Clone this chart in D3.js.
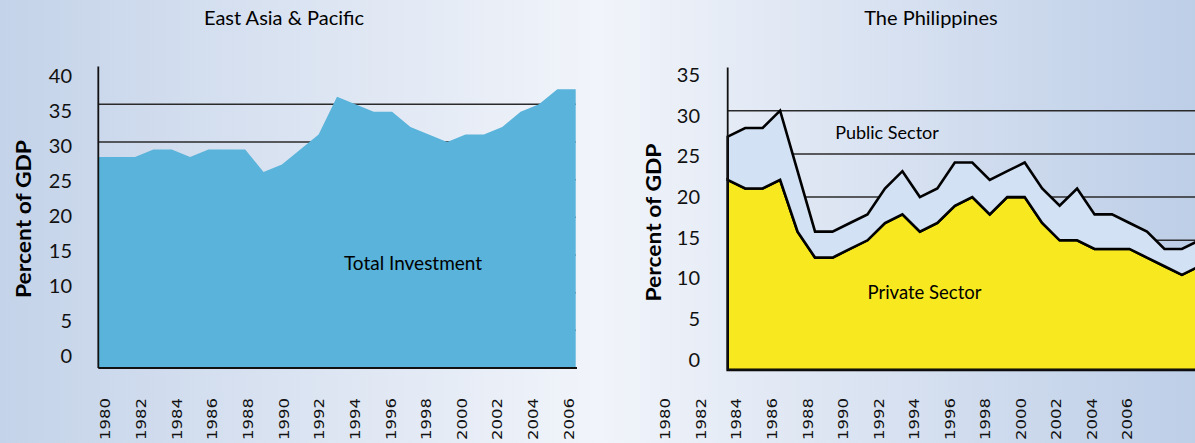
<!DOCTYPE html>
<html lang="en">
<head>
    <meta charset="utf-8">
    <title>Investment, percent of GDP</title>
    <script src="https://cdn.jsdelivr.net/npm/d3@7/dist/d3.min.js"></script>
    <style>
        body { margin: 0; padding: 0; overflow: hidden; }
        svg { display: block; font-family: Lato, "Noto Sans", sans-serif; }
        .tick text { fill: #111; }
    </style>
</head>
<body>
    <div id="chart"></div>
    <script>
        var width = 1195, height = 443;

        // East Asia & Pacific, total investment (% of GDP)
        var eapYears = [1980, 1981, 1982, 1983, 1984, 1985, 1986, 1987, 1988, 1989, 1990, 1991, 1992, 1993,
            1994, 1995, 1996, 1997, 1998, 1999, 2000, 2001, 2002, 2003, 2004, 2005, 2006];
        var eapTotal = [28, 28, 28, 29, 29, 28, 29, 29, 29, 26, 27, 29, 31, 36,
            35, 34, 34, 32, 31, 30, 31, 31, 32, 34, 35, 37, 37];

        // The Philippines, private and public investment (% of GDP)
        var phYears = [1980, 1981, 1982, 1983, 1984, 1985, 1986, 1987, 1988, 1989, 1990, 1991, 1992, 1993,
            1994, 1995, 1996, 1997, 1998, 1999, 2000, 2001, 2002, 2003, 2004, 2005, 2006, 2007];
        var phPrivate = [22, 21, 21, 22, 16, 13, 13, 14, 15, 17, 18, 16, 17, 19,
            20, 18, 20, 20, 17, 15, 15, 14, 14, 14, 13, 12, 11, 12];
        var phPublic = [5, 7, 7, 8, 7, 3, 3, 3, 3, 4, 5, 4, 4, 5,
            4, 4, 3, 4, 4, 4, 6, 4, 4, 3, 3, 2, 3, 3];

        // axis labels
        var yearLabels = ['1980', '1982', '1984', '1986', '1988', '1990', '1992', '1994', '1996', '1998',
            '2000', '2002', '2004', '2006'];
        var eapTicks = [0, 5, 10, 15, 20, 25, 30, 35, 40];
        var phTicks = [0, 5, 10, 15, 20, 25, 30, 35];

        var svg = d3.select('#chart')
            .append('svg')
            .attr('width', width)
            .attr('height', height);

        var grad = svg.append('defs').append('linearGradient')
            .attr('id', 'bg')
            .attr('x1', '0').attr('x2', '1').attr('y1', '0').attr('y2', '0');
        grad.append('stop').attr('offset', '0%').attr('stop-color', '#c4d3e9');
        grad.append('stop').attr('offset', '50%').attr('stop-color', '#f1f4fa');
        grad.append('stop').attr('offset', '100%').attr('stop-color', '#bdcee7');

        svg.append('rect')
            .attr('width', width)
            .attr('height', height)
            .attr('fill', 'url(#bg)');

        // ---------- left panel ----------
        var x1 = d3.scalePoint().domain(eapYears).range([98.3, 575.7]);
        var y1 = d3.scaleLinear().domain([0, 40]).range([368, 66.6]);

        svg.append('g')
            .selectAll('line')
            .data(eapTicks.filter(d => d > 0 && d < 40))
            .enter().append('line')
            .attr('x1', x1.range()[0]).attr('x2', x1.range()[1])
            .attr('y1', d => y1(d)).attr('y2', d => y1(d))
            .attr('stroke', '#2a2a2a')
            .attr('stroke-width', 1.5);

        var area1 = d3.area()
            .x((d, i) => x1(eapYears[i]))
            .y0(y1(0))
            .y1(d => y1(d));

        svg.append('path')
            .datum(eapTotal)
            .attr('d', area1)
            .attr('fill', '#59b3da');

        svg.append('line')
            .attr('x1', 98.3).attr('x2', 98.3)
            .attr('y1', y1(40)).attr('y2', y1(0))
            .attr('stroke', '#111').attr('stroke-width', 1.8);
        svg.append('line')
            .attr('x1', 98.3).attr('x2', 577)
            .attr('y1', y1(0)).attr('y2', y1(0))
            .attr('stroke', '#111').attr('stroke-width', 1.8);

        // tick labels sit a little off the data scale in the original
        var yLab1 = d3.scaleLinear().domain([0, 40]).range([355.7, 75.7]);
        svg.append('g')
            .attr('transform', 'translate(72,0)')
            .call(d3.axisLeft(yLab1).tickValues(eapTicks).tickSize(0).tickPadding(0))
            .call(g => g.select('.domain').remove())
            .selectAll('text')
            .style('font-size', '20px')
            .style('font-family', 'Lato, sans-serif');

        var xLab1 = d3.scalePoint().domain(yearLabels).range([105, 568.3]);
        drawYearLabels(xLab1);

        svg.append('text')
            .attr('transform', 'translate(23.5,219) rotate(-90)')
            .attr('text-anchor', 'middle')
            .attr('dy', '0.35em')
            .attr('textLength', 158)
            .attr('lengthAdjust', 'spacingAndGlyphs')
            .style('font-size', '21px')
            .style('font-weight', 'bold')
            .text('Percent of GDP');

        svg.append('text')
            .attr('x', 284).attr('y', 25)
            .attr('text-anchor', 'middle')
            .style('font-size', '20px')
            .text('East Asia & Pacific');

        svg.append('text')
            .attr('x', 413).attr('y', 270)
            .attr('text-anchor', 'middle')
            .style('font-size', '19px')
            .text('Total Investment');

        // ---------- right panel ----------
        var x2 = d3.scalePoint().domain(phYears).range([727.7, 1199.4]);
        var y2 = d3.scaleLinear().domain([0, 35]).range([369.9, 67.5]);

        svg.append('g')
            .selectAll('line')
            .data(phTicks.filter(d => d > 0 && d < 35))
            .enter().append('line')
            .attr('x1', 727.7).attr('x2', width)
            .attr('y1', d => y2(d)).attr('y2', d => y2(d))
            .attr('stroke', '#2a2a2a')
            .attr('stroke-width', 1.5);

        var phRows = phYears.map((yr, i) => ({ year: yr, priv: phPrivate[i], pub: phPublic[i] }));
        var stacked = d3.stack().keys(['priv', 'pub'])(phRows);
        var sectorColors = { priv: '#f7e81f', pub: '#d2e1f3' };

        var area2 = d3.area()
            .x(d => x2(d.data.year))
            .y0(d => y2(d[0]))
            .y1(d => y2(d[1]));

        svg.append('g')
            .selectAll('path')
            .data(stacked)
            .enter().append('path')
            .attr('d', d => area2(d) + 'Z')
            .attr('fill', d => sectorColors[d.key])
            .attr('stroke', '#000')
            .attr('stroke-width', 2.6)
            .attr('stroke-linejoin', 'miter');

        svg.append('line')
            .attr('x1', 727.7).attr('x2', 727.7)
            .attr('y1', y2(35)).attr('y2', y2(0))
            .attr('stroke', '#111').attr('stroke-width', 1.8);
        svg.append('line')
            .attr('x1', 727.7).attr('x2', width)
            .attr('y1', y2(0)).attr('y2', y2(0))
            .attr('stroke', '#111').attr('stroke-width', 1.8);

        var yLab2 = d3.scaleLinear().domain([0, 35]).range([360, 75]);
        svg.append('g')
            .attr('transform', 'translate(700,0)')
            .call(d3.axisLeft(yLab2).tickValues(phTicks).tickSize(0).tickPadding(0))
            .call(g => g.select('.domain').remove())
            .selectAll('text')
            .style('font-size', '20px')
            .style('font-family', 'Lato, sans-serif');

        var xLab2 = d3.scalePoint().domain(yearLabels).range([665, 1127]);
        drawYearLabels(xLab2);

        svg.append('text')
            .attr('transform', 'translate(653.5,222.5) rotate(-90)')
            .attr('text-anchor', 'middle')
            .attr('dy', '0.35em')
            .attr('textLength', 158)
            .attr('lengthAdjust', 'spacingAndGlyphs')
            .style('font-size', '21px')
            .style('font-weight', 'bold')
            .text('Percent of GDP');

        svg.append('text')
            .attr('x', 931).attr('y', 25)
            .attr('text-anchor', 'middle')
            .style('font-size', '20px')
            .text('The Philippines');

        svg.append('text')
            .attr('x', 887).attr('y', 139)
            .attr('text-anchor', 'middle')
            .style('font-size', '18px')
            .text('Public Sector');

        svg.append('text')
            .attr('x', 924.5).attr('y', 299)
            .attr('text-anchor', 'middle')
            .style('font-size', '18.5px')
            .text('Private Sector');

        function drawYearLabels(scale) {
            svg.append('g')
                .attr('transform', 'translate(0,398)')
                .call(d3.axisBottom(scale).tickSize(0).tickPadding(0))
                .call(g => g.select('.domain').remove())
                .selectAll('text')
                .attr('x', 0).attr('y', 0)
                .attr('dy', '0.35em')
                .attr('transform', 'rotate(-90)')
                .attr('text-anchor', 'end')
                .attr('textLength', 42)
                .attr('lengthAdjust', 'spacingAndGlyphs')
                .style('font-family', '"DejaVu Sans", sans-serif')
                .style('font-size', '14px');
        }
    </script>
</body>
</html>
